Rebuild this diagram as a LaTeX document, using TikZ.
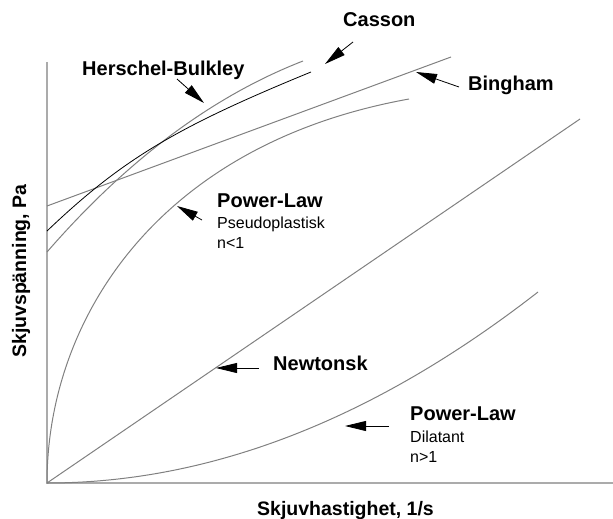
\documentclass[tikz,border=0pt]{standalone}
\usepackage{fontspec}
\setmainfont{Liberation Sans}
\usetikzlibrary{arrows.meta}
\begin{document}
\begin{tikzpicture}[x=1pt,y=-1pt,
  curve/.style={draw=black!50, line width=1pt},
  axisline/.style={draw=black!33, line width=2pt},
  pointer/.style={draw=black, line width=0.8pt, -{Triangle[length=21pt,width=10pt]}},
  lbl/.style={font=\bfseries\fontsize{20}{24}\selectfont, anchor=base west, inner sep=0pt},
  sublbl/.style={font=\fontsize{16}{19}\selectfont, anchor=base west, inner sep=0pt},
  axlbl/.style={font=\bfseries\fontsize{19.5}{23}\selectfont, anchor=base west, inner sep=0pt}]
\useasboundingbox (0,0) rectangle (613,519);

% axes
\coordinate (ytop) at (47,62);
\coordinate (orig) at (47,483);
\coordinate (xend) at (613,483);
\draw[axisline] (ytop) -- (orig) -- (xend);

% Newtonian
\coordinate (newtend) at (580,119);
\draw[curve] (orig) -- (newtend);

% Bingham
\coordinate (bingA) at (47,206);
\coordinate (bingB) at (451,57);
\draw[curve] (bingA) -- (bingB);

% Dilatant (parabola)
\coordinate (dilend) at (538,292);
\draw[curve] (orig) .. controls (210.67,483) and (374.33,419.33) .. (dilend);

% Pseudoplastic
\coordinate (psend) at (409,99);
\draw[curve] (orig) .. controls (47,318) and (159,144) .. (psend);

% Herschel-Bulkley
\coordinate (hbA) at (47,252);
\coordinate (hbB) at (303,61);
\draw[curve] (hbA) .. controls (127,160) and (212.3,96.3) .. (hbB);

% Casson
\coordinate (caA) at (47,231);
\coordinate (caB) at (311,72);
\draw[black, line width=0.8pt] (caA) .. controls (122.2,159.5) and (175,127.7) .. (caB);

% labels
\node[lbl] (hb) at (82,75.5) {Herschel-Bulkley};
\node[lbl] (casson) at (343,27) {Casson};
\node[lbl] (bingham) at (468,91) {Bingham};
\node[lbl] (plp) at (217,207) {Power-Law};
\node[sublbl] (pseudo) at (217,228) {Pseudoplastisk};
\node[sublbl] (nlt) at (217,248) {n<1};
\node[lbl] (newton) at (273,370) {Newtonsk};
\node[lbl] (pld) at (410,420) {Power-Law};
\node[sublbl] (dil) at (410,442) {Dilatant};
\node[sublbl] (ngt) at (410,462) {n>1};
\node[axlbl] (xlab) at (257,515) {Skjuvhastighet, 1/s};
\node[axlbl, rotate=90] (ylab) at (26,358) {Skjuvspänning, Pa};

% pointer arrows
\coordinate (hbT) at (177,79);   \coordinate (hbH) at (204,103);
\coordinate (caT) at (353,42);   \coordinate (caH) at (325,64);
\coordinate (biT) at (459,87);   \coordinate (biH) at (416,72);
\coordinate (psT) at (202,220);  \coordinate (psH) at (177,206);
\coordinate (neT) at (259,368);  \coordinate (neH) at (216,368);
\coordinate (diT) at (389,426);  \coordinate (diH) at (345,426);
\draw[pointer] (hbT) -- (hbH);
\draw[pointer] (caT) -- (caH);
\draw[pointer] (biT) -- (biH);
\draw[pointer] (psT) -- (psH);
\draw[pointer] (neT) -- (neH);
\draw[pointer] (diT) -- (diH);
\end{tikzpicture}
\end{document}
